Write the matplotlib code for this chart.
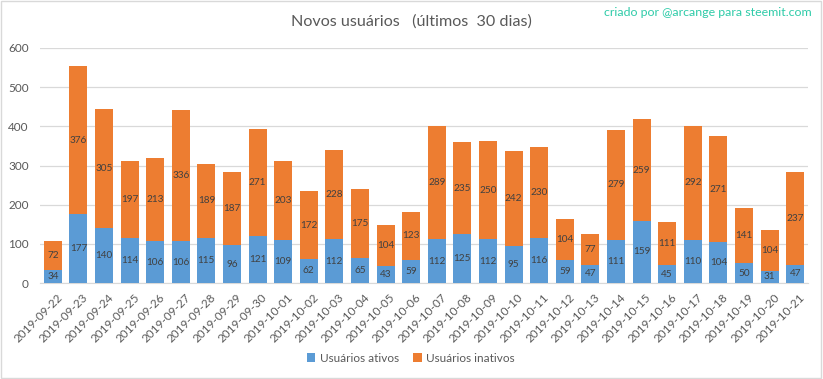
import numpy as np
import matplotlib
matplotlib.use("Agg")
import matplotlib.pyplot as plt
from matplotlib.patches import Rectangle
import matplotlib.transforms as mtransforms

plt.rcParams['font.family'] = ['Lato', 'DejaVu Sans']

datas = ['2019-09-22', '2019-09-23', '2019-09-24', '2019-09-25', '2019-09-26',
         '2019-09-27', '2019-09-28', '2019-09-29', '2019-09-30', '2019-10-01',
         '2019-10-02', '2019-10-03', '2019-10-04', '2019-10-05', '2019-10-06',
         '2019-10-07', '2019-10-08', '2019-10-09', '2019-10-10', '2019-10-11',
         '2019-10-12', '2019-10-13', '2019-10-14', '2019-10-15', '2019-10-16',
         '2019-10-17', '2019-10-18', '2019-10-19', '2019-10-20', '2019-10-21']
ativos = [34, 177, 140, 114, 106, 106, 115, 96, 121, 109, 62, 112, 65, 43, 59,
          112, 125, 112, 95, 116, 59, 47, 111, 159, 45, 110, 104, 50, 31, 47]
inativos = [72, 376, 305, 197, 213, 336, 189, 187, 271, 203, 172, 228, 175, 104, 123,
            289, 235, 250, 242, 230, 104, 77, 279, 259, 111, 292, 271, 141, 104, 237]

azul = '#5B9BD5'
laranja = '#ED7D31'
cinza_txt = '#595959'

fig = plt.figure(figsize=(8.23, 3.79), dpi=100)
ax = fig.add_axes([40/823, 1 - 283/379, 768/823, 235/379])

x = np.arange(len(datas))
b1 = ax.bar(x, ativos, width=0.7, color=azul, label='Usuários ativos', zorder=3)
b2 = ax.bar(x, inativos, width=0.7, bottom=ativos, color=laranja,
            label='Usuários inativos', zorder=3)

# rótulos no meio de cada segmento
for i in range(len(datas)):
    ax.text(x[i], ativos[i] / 2, str(ativos[i]), ha='center', va='center',
            fontsize=7.2, color='#404040', zorder=4)
    ax.text(x[i], ativos[i] + inativos[i] / 2, str(inativos[i]), ha='center',
            va='center', fontsize=7.2, color='#404040', zorder=4)

ax.set_xlim(-0.5, len(datas) - 0.5)
ax.set_ylim(0, 600)
ax.set_yticks(range(0, 601, 100))
ax.yaxis.grid(True, color='#D9D9D9', linewidth=0.9, zorder=0)
ax.set_axisbelow(True)
for s in ['top', 'right', 'left']:
    ax.spines[s].set_visible(False)
ax.spines['bottom'].set_color('#D9D9D9')
ax.tick_params(axis='both', length=0, colors=cinza_txt, labelsize=8.5)
ax.tick_params(axis='y', pad=8)
ax.tick_params(axis='x', pad=6)
ax.set_xticks(x)
ax.set_xticklabels(datas, rotation=45, ha='right', rotation_mode='anchor')
desloc = mtransforms.ScaledTranslation(4 / 100, 0, fig.dpi_scale_trans)
for lbl in ax.get_xticklabels():
    lbl.set_transform(lbl.get_transform() + desloc)

fig.text(411 / 823, 1 - 22 / 379, 'Novos usuários   (últimos  30 dias)',
         ha='center', va='center', fontsize=11.6, color=cinza_txt)
fig.text(812 / 823, 1 - 13 / 379, 'criado por @arcange para steemit.com',
         ha='right', va='center', fontsize=8.9, color='#2ECBA8')

fig.legend(handles=[b1, b2], loc='center', bbox_to_anchor=(411 / 823, 1 - 358 / 379),
           ncol=2, frameon=False, fontsize=8.5, handlelength=0.7, handleheight=0.7,
           handletextpad=0.4, columnspacing=1.2, labelcolor=cinza_txt)

fig.patches.append(Rectangle((0.001, 0.002), 0.997, 0.995, transform=fig.transFigure,
                             fill=False, edgecolor='#D9D9D9', linewidth=1))

fig.savefig('out.png', dpi=100)
